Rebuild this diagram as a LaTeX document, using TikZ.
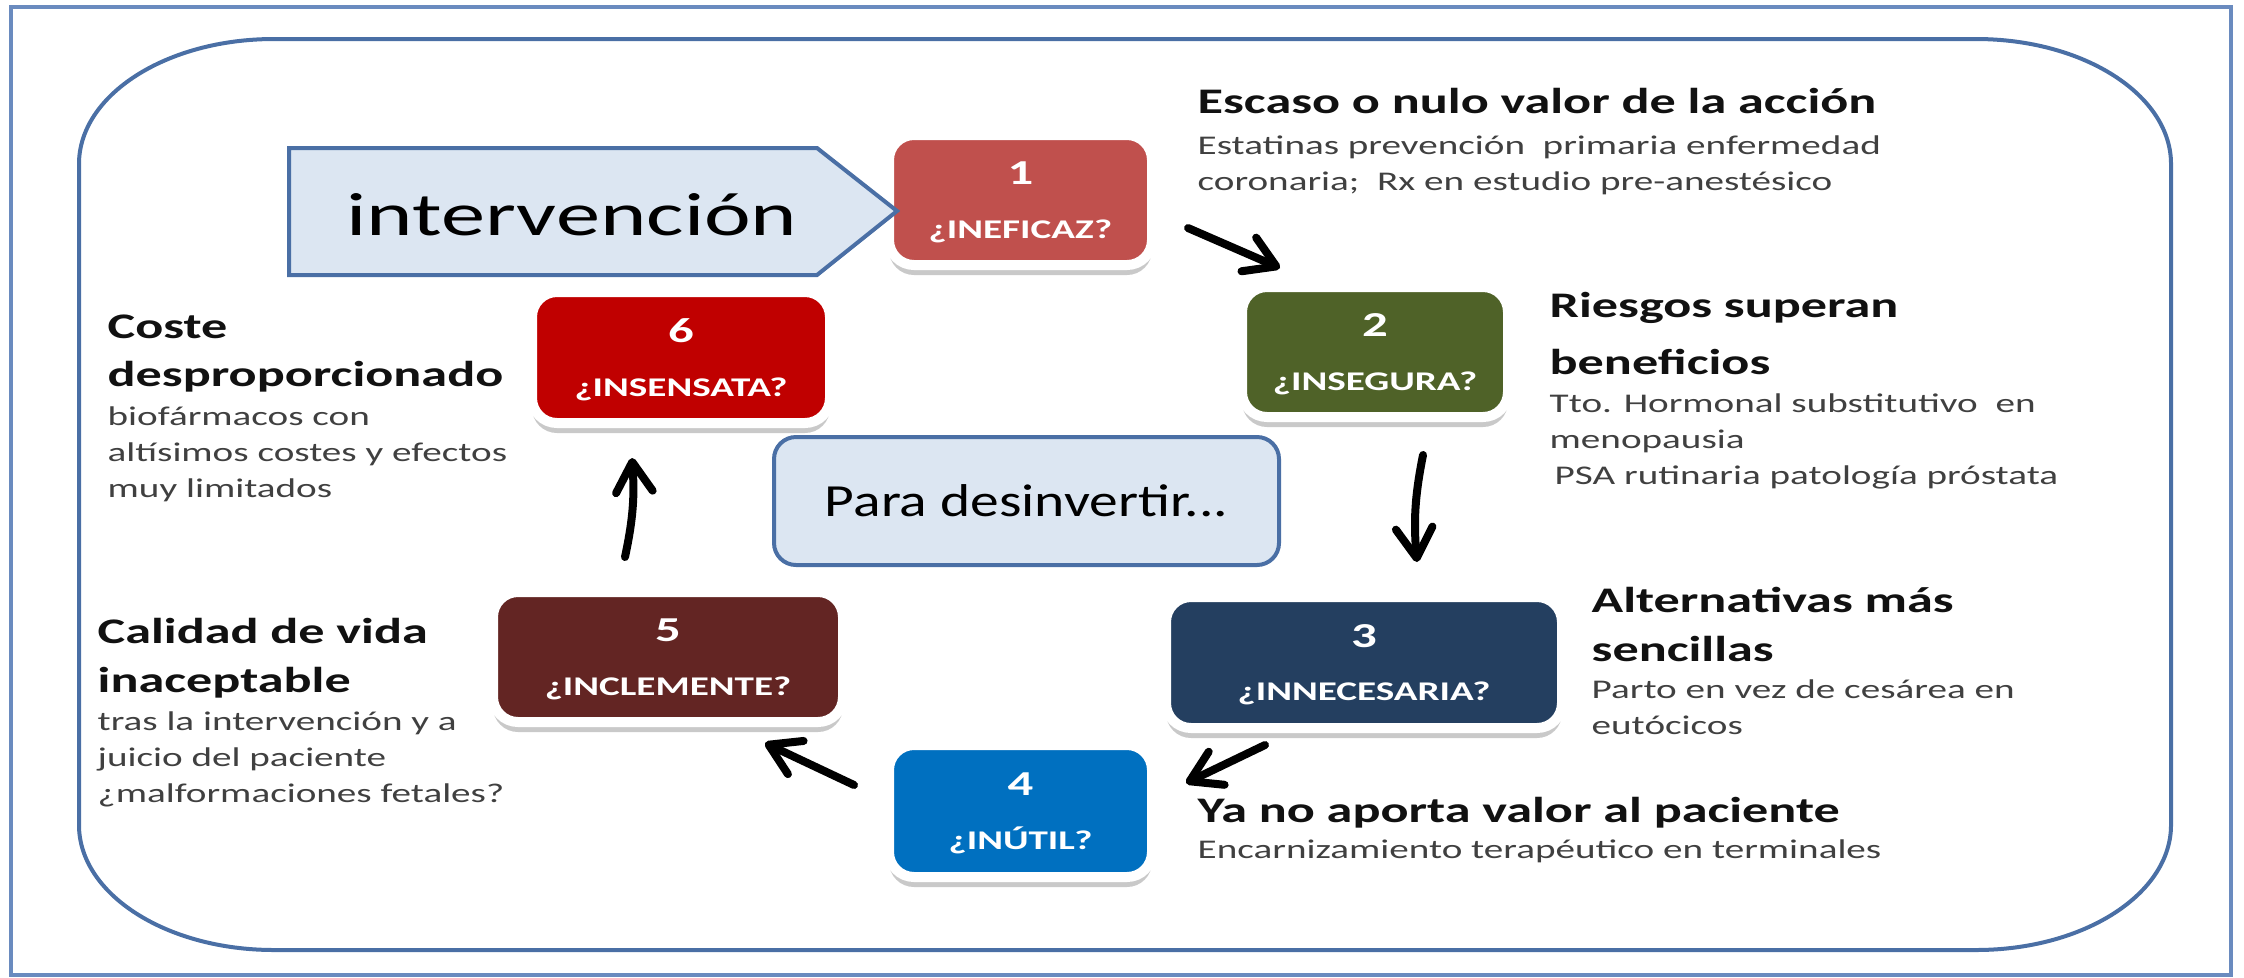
\documentclass[tikz,border=0pt]{standalone}
\usepackage{fontspec}
\setmainfont{Carlito}[FakeStretch=1.45]
\newfontfamily\fuentepara{Carlito}[FakeStretch=1.25]
\usepackage{tikz}
\usetikzlibrary{arrows.meta,shadows,calc}

\definecolor{rojoA}{HTML}{C0504D}
\definecolor{verdeA}{HTML}{4F6228}
\definecolor{azulA}{HTML}{243F60}
\definecolor{azulB}{HTML}{0070C0}
\definecolor{granate}{HTML}{632523}
\definecolor{rojoB}{HTML}{C00000}
\definecolor{azulclaro}{HTML}{DCE6F2}
\definecolor{azulborde}{HTML}{4A6FA5}
\definecolor{azulmarco}{HTML}{6A8BBF}
\definecolor{negroT}{HTML}{111111}
\definecolor{grisT}{HTML}{404040}

\newcommand{\numcaja}{\fontsize{10.5}{10.5}\selectfont}
\newcommand{\titulo}[1]{{\fontsize{10.8}{10.8}\selectfont\bfseries\color{negroT}\rule{0pt}{9pt}#1}}

\begin{document}
\begin{tikzpicture}[x=0.3pt,y=0.3pt,yscale=-1,xscale=1,
  caja/.style={rounded corners=7.5pt, fill=#1, draw=white, line width=3pt, outer sep=0pt,
    text=white, align=center, text depth=0pt, inner sep=0pt,
    font=\bfseries\fontsize{8.1}{16}\selectfont,
    drop shadow={shadow xshift=0pt, shadow yshift=-3pt, opacity=0.3, fill=black!70}},
  centro/.style={rounded corners=6.6pt, fill=azulclaro, draw=azulborde, line width=1.2pt,
    minimum width=151.5pt, minimum height=38.4pt, inner sep=0pt,
    font=\fuentepara\fontsize{13.8}{13.8}\selectfont},
  texto/.style={anchor=north west, inner sep=0pt, align=left, text=grisT,
    font=\fontsize{8.1}{10.8}\selectfont},
  flecha/.style={line width=2.4pt, line cap=round, -{Straight Barb[length=9pt,width=11pt,round]}}]
\useasboundingbox (0,0) rectangle (2244,977);

%Shape: Rectangle [outer frame]
\draw [azulmarco, line width=1.2pt] (11,7) rectangle (2231,975);
%Shape: Rounded Rectangle [inner frame]
\draw [azulborde, line width=1.2pt] (274,39) -- (1976,39)
  arc[start angle=-90, end angle=0, x radius=195, y radius=125] -- (2171,825)
  arc[start angle=0, end angle=90, x radius=195, y radius=125] -- (274,950)
  arc[start angle=90, end angle=180, x radius=195, y radius=125] -- (79,164)
  arc[start angle=180, end angle=270, x radius=195, y radius=125] -- cycle;

% Boxes
\node [caja=rojoA, minimum width=78.9pt, minimum height=39pt] (b1) at (1020.5,200) {{\numcaja 1}\\¿INEFICAZ?};
\node [caja=verdeA, minimum width=79.8pt, minimum height=39pt] (b2) at (1375,352) {{\numcaja 2}\\¿INSEGURA?};
\node [caja=azulA, minimum width=118.8pt, minimum height=39.3pt] (b3) at (1364,662.5) {{\numcaja 3}\\¿INNECESARIA?};
\node [caja=azulB, minimum width=78.9pt, minimum height=39.6pt] (b4) at (1020.5,811) {{\numcaja 4}\\¿INÚTIL?};
\node [caja=granate, minimum width=105pt, minimum height=39pt] (b5) at (668,657) {{\numcaja 5}\\¿INCLEMENTE?};
\node [caja=rojoB, minimum width=89.4pt, minimum height=39.3pt] (b6) at (681,357.5) {{\numcaja 6}\\¿INSENSATA?};

%Shape: Pentagon [intervencion]
\draw [fill=azulclaro, draw=azulborde, line width=1.2pt] (289,148) -- (817,148) -- (897,211) -- (817,275) -- (289,275) -- cycle;
% Text Node
\node [anchor=base west, inner sep=0pt, font=\fontsize{18.3}{18.3}\selectfont] (interv) at (346,235) {intervención};

% Centre box
\node [centro] (para) at (1026.5,501) {Para desinvertir...};

% Arrows
\draw [flecha] ($(b1.east)+(36,28)$) -- ($(b2.north west)+(38,-19)$);
\draw [flecha] ($(b2.south)+(48,38)$) to[bend left=8] ($(b3.north)+(53,-35)$);
\draw [flecha] ($(b3.south)+(-99,17)$) -- ($(b4.east)+(34,-28)$);
\draw [flecha] ($(b4.west)+(-35,-26)$) -- ($(b5.south east)+(-78,21)$);
\draw [flecha] ($(b5.north)+(-43,-35)$) to[bend left=8] ($(b6.south)+(-49,35)$);

% Text Node
\node [texto] (t1) at (1197,83) {\titulo{Escaso o nulo valor de la acción}\\[1.5pt]Estatinas prevención~ primaria enfermedad\\coronaria;~ Rx en estudio pre-anestésico};
% Text Node
\node [texto] (t2) at (1549,287) {\titulo{Riesgos superan}\\[5.1pt]\titulo{beneficios}\\[0.6pt]Tto. Hormonal substitutivo~ en\\menopausia\\\hspace{1.5pt}PSA rutinaria patología próstata};
% Text Node
\node [texto] (t3) at (1591,582) {\titulo{Alternativas más}\\[3.9pt]\titulo{sencillas}\\[0.3pt]Parto en vez de cesárea en\\eutócicos};
% Text Node
\node [texto] (t4) at (1197,792) {\titulo{Ya no aporta valor al paciente}\\Encarnizamiento terapéutico en terminales};
% Text Node
\node [texto] (t5) at (97,613) {\titulo{Calidad de vida}\\[3.9pt]\titulo{inaceptable}\\[0.6pt]tras la intervención y a\\juicio del paciente\\¿malformaciones fetales?};
% Text Node
\node [texto] (t6) at (107,308) {\titulo{Coste}\\[3.6pt]\titulo{desproporcionado}\\[0.9pt]biofármacos con\\altísimos costes y efectos\\muy limitados};
\end{tikzpicture}
\end{document}
